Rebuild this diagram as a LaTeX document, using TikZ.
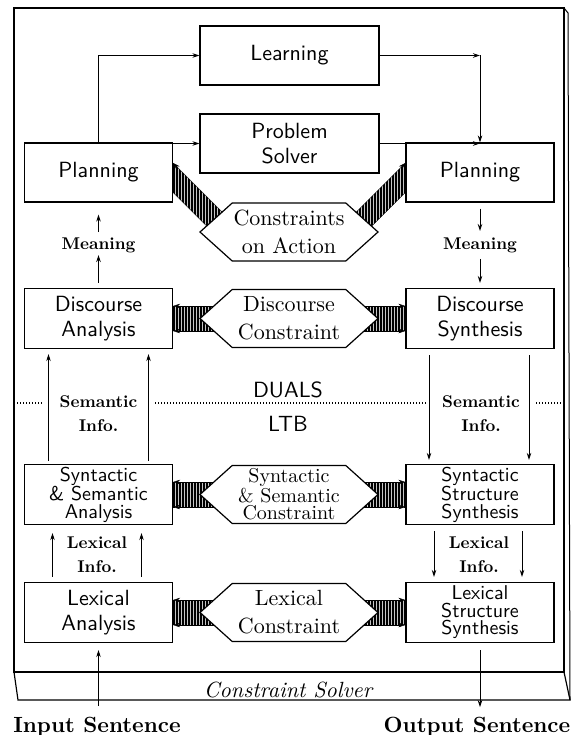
\documentclass[tikz,border=0pt]{standalone}
\usepackage{fontspec}
\setmainfont{lmroman10-regular.otf}[BoldFont=lmroman10-bold.otf, ItalicFont=lmroman10-italic.otf, BoldItalicFont=lmroman10-bolditalic.otf]
\setsansfont{lmsans10-regular.otf}[BoldFont=lmsans10-bold.otf]
\usetikzlibrary{arrows.meta,positioning,calc,shapes.symbols,patterns.meta,backgrounds}

\tikzset{
  box/.style={draw, line width=1.2pt, minimum width=148pt, minimum height=60pt, inner sep=0pt, align=center, font=\sffamily\fontsize{22}{25}\selectfont},
  tallbox/.style={box, font=\sffamily\fontsize{20}{17.5}\selectfont},
  hexa/.style={signal, signal to=east and west, signal pointer angle=84, draw, line width=1.2pt, fill=white, minimum width=178pt, minimum height=58pt, inner sep=0pt, align=center, font=\fontsize{22}{28}\selectfont},
  info/.style={align=center, inner sep=2pt, font=\bfseries\fontsize{17}{24}\selectfont},
  band/.style={preaction={fill=gray!45}, pattern={Lines[angle=90,distance=3pt,line width=1.1pt]}},
}

\begin{document}
\begin{tikzpicture}[x=1pt, y=-1pt, >={Stealth[length=7pt,width=4.5pt]}, line width=0.9pt]
    \useasboundingbox (0,0) rectangle (573,735);

    % Frame and solver base
    \draw[line width=1.2pt] (14,8) rectangle (564,672);
    \draw[line width=1.2pt] (14,672) -- (18,700) -- (570,700) -- (564,672);
    \draw[line width=1pt] (564,8) -- (568,13) -- (570,700);
    \node[font=\itshape\fontsize{22}{26}\selectfont, anchor=base] (solv) at (288,697) {Constraint Solver};

    % Top
    \node[box, minimum width=179pt, minimum height=59pt] (learn) at (289.5,55.5) {Learning};
    \node[box, minimum width=179pt, minimum height=59pt] (solver) at (289.5,143.5) {Problem\\Solver};
    \node[box, minimum height=59pt] (planL) at (98.5,172.5) {Planning};
    \node[box, minimum height=59pt] (planR) at (480,172.5) {Planning};
    \node[hexa] (coa) at (289,232) {Constraints\\on Action};

    % Rows
    \node[box] (discA) at (98.5,318.5) {Discourse\\Analysis};
    \node[box] (discS) at (480,318.5) {Discourse\\Synthesis};
    \node[hexa] (dcon) at (289,318.5) {Discourse\\Constraint};

    \node[tallbox] (synA) at (98.5,494.5) {Syntactic\\\& Semantic\\Analysis};
    \node[tallbox] (synS) at (480,494.5) {Syntactic\\Structure\\Synthesis};
    \node[hexa, font=\fontsize{20}{17.5}\selectfont] (scon) at (289,494.5) {Syntactic\\\& Semantic\\Constraint};

    \node[box] (lexA) at (98.5,612.5) {Lexical\\Analysis};
    \node[tallbox] (lexS) at (480,612.5) {Lexical\\Structure\\Synthesis};
    \node[hexa] (lcon) at (289,612.5) {Lexical\\Constraint};

    % DUALS / LTB split
    \draw[line width=1.2pt, dash pattern=on 1.2pt off 1.8pt] (14,403) -- (564,403);
    \node[font=\sffamily\fontsize{22}{26}\selectfont] (duals) at (288,389.5) {DUALS};
    \node[font=\sffamily\fontsize{22}{26}\selectfont] (ltb) at (288,424) {LTB};

    % Info labels
    \node[info] (mL) at (98.5,245) {Meaning};
    \node[info] (mR) at (480,245) {Meaning};
    \node[info, fill=white, minimum width=112pt] (semL) at (98.5,414) {Semantic\\Info.};
    \node[info, fill=white, minimum width=110pt] (semR) at (481,414) {Semantic\\Info.};
    \node[info] (lexL) at (97,555) {Lexical\\Info.};
    \node[info] (lexR) at (479,555) {Lexical\\Info.};

    % Planning <-> learning / problem solver
    \draw[->] (planL.north) |- (learn.west);
    \draw[->] (planL.north |- solver.west) -- (solver.west);
    \draw[->] (learn.east) -- (planR.north |- learn.east);
    \draw[->] (planR.north |- learn.east) -- (planR.north);
    \draw[->] (solver.east) -- (planR.north |- solver.east);

    % Meaning
    \draw[->, shorten <=5pt] (discA) -- (mL);
    \draw[->, shorten <=3pt, shorten >=12pt] (mL) -- (planL);
    \draw[->, shorten <=6pt, shorten >=4pt] (planR) -- (mR);
    \draw[->, shorten <=4pt, shorten >=5pt] (mR) -- (discS);

    % Semantic info
    \draw[->] ($(synA.north)+(-50,-3)$) -- ($(discA.south)+(-50,5)$);
    \draw[->] ($(synA.north)+(50,-3)$) -- ($(discA.south)+(50,5)$);
    \draw[->] ($(discS.south)+(-51,6)$) -- ($(synS.north)+(-51,-4)$);
    \draw[->] ($(discS.south)+(49,6)$) -- ($(synS.north)+(49,-4)$);

    % Lexical info
    \draw[->] ($(lexA.north)+(-46,-5)$) -- ($(synA.south)+(-46,8)$);
    \draw[->] ($(lexA.north)+(43,-5)$) -- ($(synA.south)+(43,8)$);
    \draw[->] ($(synS.south)+(-46,6)$) -- ($(lexS.north)+(-46,-5)$);
    \draw[->] ($(synS.south)+(42,6)$) -- ($(lexS.north)+(42,-5)$);

    % Sentences
    \node[font=\bfseries\fontsize{22}{26}\selectfont, anchor=base, inner sep=2pt] (inp) at (97,732) {Input Sentence};
    \node[font=\bfseries\fontsize{22}{26}\selectfont, anchor=base, inner sep=2pt] (outp) at (477,732) {Output Sentence};
    \draw[->, shorten <=8pt, shorten >=7pt] (inp.north -| lexA.south) -- (lexA.south);
    \draw[->, shorten <=7pt, shorten >=7pt] (lexS.south) -- (outp.north -| lexS.south);

    % Hatched constraint bands
    \begin{scope}[on background layer]
        \fill[band] ($(planL.east)+(0,-9.5)$) -- ++(52,52) -- ($(planL.east)+(38,58)$) -- ($(planL.east)+(0,20)$) -- cycle;
        \draw[->] ($(planL.east)+(52,42.5)$) -- ($(planL.east)+(0,-9.5)$);
        \draw ($(planL.east)+(38,58)$) -- ($(planL.east)+(0,20)$);
        \fill[band] ($(planR.west)+(0,-9.5)$) -- ++(-52,52) -- ($(planR.west)+(-38,58)$) -- ($(planR.west)+(0,20)$) -- cycle;
        \draw[->] ($(planR.west)+(-52,42.5)$) -- ($(planR.west)+(0,-9.5)$);
        \draw ($(planR.west)+(-38,58)$) -- ($(planR.west)+(0,20)$);

        \fill[band] ($(discA.east)+(0,-12.5)$) rectangle ($(dcon.center)+(-70,12.5)$);
        \draw[->] ($(dcon.center)+(-75,-12.5)$) -- ($(discA.east)+(0,-12.5)$);
        \draw[->] ($(dcon.center)+(-75,12.5)$) -- ($(discA.east)+(0,12.5)$);
        \fill[band] ($(discS.west)+(0,-12.5)$) rectangle ($(dcon.center)+(70,12.5)$);
        \draw[->] ($(dcon.center)+(75,-12.5)$) -- ($(discS.west)+(0,-12.5)$);
        \draw[->] ($(dcon.center)+(75,12.5)$) -- ($(discS.west)+(0,12.5)$);

        \fill[band] ($(synA.east)+(0,-12.5)$) rectangle ($(scon.center)+(-70,12.5)$);
        \draw[->] ($(scon.center)+(-75,-12.5)$) -- ($(synA.east)+(0,-12.5)$);
        \draw[->] ($(scon.center)+(-75,12.5)$) -- ($(synA.east)+(0,12.5)$);
        \fill[band] ($(synS.west)+(0,-12.5)$) rectangle ($(scon.center)+(70,12.5)$);
        \draw[->] ($(scon.center)+(75,-12.5)$) -- ($(synS.west)+(0,-12.5)$);
        \draw[->] ($(scon.center)+(75,12.5)$) -- ($(synS.west)+(0,12.5)$);

        \fill[band] ($(lexA.east)+(0,-12.5)$) rectangle ($(lcon.center)+(-70,12.5)$);
        \draw[->] ($(lcon.center)+(-75,-12.5)$) -- ($(lexA.east)+(0,-12.5)$);
        \draw[->] ($(lcon.center)+(-75,12.5)$) -- ($(lexA.east)+(0,12.5)$);
        \fill[band] ($(lexS.west)+(0,-12.5)$) rectangle ($(lcon.center)+(70,12.5)$);
        \draw[->] ($(lcon.center)+(75,-12.5)$) -- ($(lexS.west)+(0,-12.5)$);
        \draw[->] ($(lcon.center)+(75,12.5)$) -- ($(lexS.west)+(0,12.5)$);
    \end{scope}
\end{tikzpicture}
\end{document}
